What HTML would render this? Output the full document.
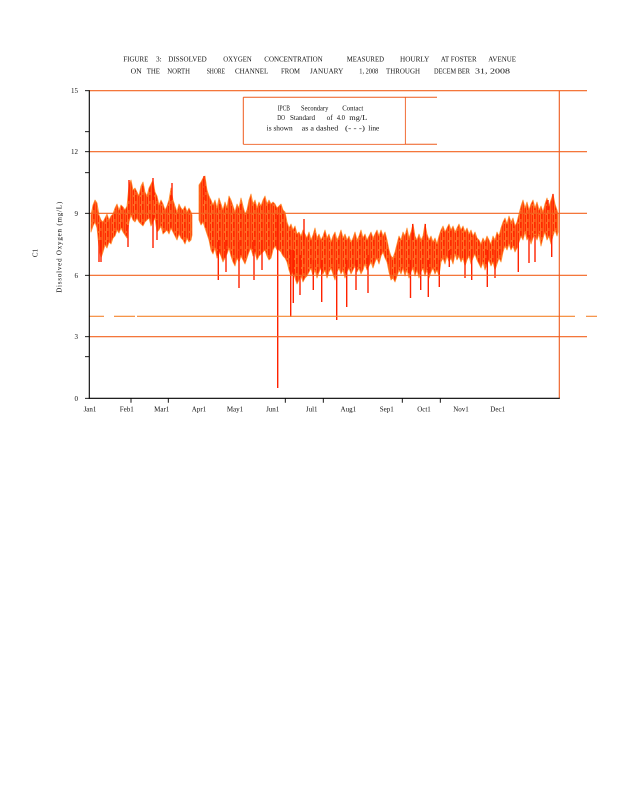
<!DOCTYPE html>
<html><head><meta charset="utf-8"><style>
html,body{margin:0;padding:0;background:#fff;}
svg{display:block;}
text{font-family:"Liberation Serif",serif;fill:#111;}
</style></head><body>
<svg width="618" height="800" viewBox="0 0 618 800" xmlns="http://www.w3.org/2000/svg">
<defs>
<pattern id="p" width="7" height="9" patternUnits="userSpaceOnUse">
<rect x="0" y="0" width="7" height="9" fill="#ff2a00"/>
<rect x="1.3" y="0" width="0.7" height="9" fill="#ff9038"/>
<rect x="3.8" y="0" width="0.9" height="9" fill="#ff7a28"/>
<rect x="5.9" y="0" width="0.5" height="9" fill="#ffa048"/>
<rect x="2.6" y="3" width="0.6" height="3" fill="#ff9a40"/>
<rect x="0" y="6" width="0.6" height="2" fill="#ff8a30"/>
</pattern>
</defs>
<rect width="618" height="800" fill="#fff"/>

<!-- Title -->
<g font-size="7">
<text x="123.3" y="61.5" textLength="25" lengthAdjust="spacingAndGlyphs">FIGURE</text>
<text x="156" y="61.5" textLength="5.7" lengthAdjust="spacingAndGlyphs">3:</text>
<text x="168.3" y="61.5" textLength="38.4" lengthAdjust="spacingAndGlyphs">DISSOLVED</text>
<text x="223.3" y="61.5" textLength="28.4" lengthAdjust="spacingAndGlyphs">OXYGEN</text>
<text x="264.3" y="61.5" textLength="58.4" lengthAdjust="spacingAndGlyphs">CONCENTRATION</text>
<text x="346.7" y="61.5" textLength="37.3" lengthAdjust="spacingAndGlyphs">MEASURED</text>
<text x="400" y="61.5" textLength="29.3" lengthAdjust="spacingAndGlyphs">HOURLY</text>
<text x="440.7" y="61.5" textLength="36" lengthAdjust="spacingAndGlyphs">AT FOSTER</text>
<text x="488.3" y="61.5" textLength="27.7" lengthAdjust="spacingAndGlyphs">AVENUE</text>

<text x="130.7" y="73.5" textLength="11" lengthAdjust="spacingAndGlyphs">ON</text>
<text x="146.7" y="73.5" textLength="13.3" lengthAdjust="spacingAndGlyphs">THE</text>
<text x="167.3" y="73.5" textLength="22.7" lengthAdjust="spacingAndGlyphs">NORTH</text>
<text x="206.7" y="73.5" textLength="18.3" lengthAdjust="spacingAndGlyphs">SHORE</text>
<text x="235" y="73.5" textLength="33.3" lengthAdjust="spacingAndGlyphs">CHANNEL</text>
<text x="281" y="73.5" textLength="19" lengthAdjust="spacingAndGlyphs">FROM</text>
<text x="310" y="73.5" textLength="33.3" lengthAdjust="spacingAndGlyphs">JANUARY</text>
<text x="359.3" y="73.5" textLength="19" lengthAdjust="spacingAndGlyphs">1, 2008</text>
<text x="386" y="73.5" textLength="34" lengthAdjust="spacingAndGlyphs">THROUGH</text>
<text x="434" y="73.5" textLength="36" lengthAdjust="spacingAndGlyphs">DECEM BER</text>
<text x="475" y="73.5" textLength="35" lengthAdjust="spacingAndGlyphs">31, 2008</text>
</g>

<!-- Data series -->
<polygon fill="url(#p)" stroke="#ff8c30" stroke-width="0.8" stroke-linejoin="round" points="91,215 93,205 95,200 97,203 99,215 101,220 103,222 105,218 107,214 109,220 111,216 113,214 115,208 117,204 119,210 121,205 123,207 125,210 127,206 129,185 131,180 133,190 135,188 137,192 139,196 141,186 143,182 145,192 147,196 149,188 151,184 153,180 155,192 157,196 159,205 161,200 163,204 165,210 167,206 169,200 171,188 173,200 175,206 177,212 179,204 181,208 183,210 185,206 187,212 189,208 191,212 192,215 192,235 191,240 189,242 187,238 185,244 183,240 181,238 179,234 177,240 175,236 173,232 171,228 169,234 167,230 165,232 163,234 161,226 159,230 157,232 155,218 153,222 151,226 149,218 147,220 145,222 143,226 141,224 139,222 137,218 135,222 133,220 131,215 129,222 127,238 125,235 123,232 121,228 119,233 117,230 115,236 113,238 111,244 109,242 107,248 105,245 103,252 101,258 99,248 97,228 95,222 93,226 91,232"/>

<polygon fill="url(#p)" stroke="#ff8c30" stroke-width="0.8" stroke-linejoin="round" points="199,185 201,182 203,178 205,176 207,190 209,196 211,200 213,205 215,200 217,208 219,198 221,204 223,210 225,202 227,208 229,196 231,200 233,206 235,212 237,204 239,208 241,198 243,206 245,214 247,210 249,200 251,194 253,204 255,200 257,208 259,202 261,206 263,200 265,196 267,204 269,200 271,204 273,202 275,204 277,208 279,206 281,204 283,210 285,212 287,222 289,228 291,224 293,230 295,226 297,234 299,232 301,236 303,230 305,234 307,238 309,232 311,240 313,235 315,228 317,238 319,234 321,240 323,236 325,230 327,238 329,234 331,242 333,236 335,232 337,240 339,236 341,230 343,238 345,234 347,240 349,236 351,242 353,238 355,232 357,240 359,236 361,230 363,238 365,234 367,240 369,236 371,232 373,238 375,234 377,230 379,236 381,230 383,236 385,232 387,240 389,250 391,256 393,258 395,252 397,244 399,236 401,240 403,232 405,236 407,228 409,238 411,232 413,224 415,236 417,240 419,234 421,240 423,236 425,224 427,234 429,240 431,236 433,242 435,238 437,244 439,236 441,230 443,226 445,232 447,228 449,224 451,230 453,226 455,232 457,228 459,224 461,230 463,226 465,232 467,228 469,234 471,230 473,236 475,232 477,238 479,240 481,244 483,238 485,242 487,236 489,240 491,244 493,236 495,240 497,232 499,236 501,228 503,222 505,218 507,224 509,216 511,222 513,218 515,226 517,222 519,214 521,206 523,200 525,208 527,202 529,210 531,204 533,200 535,208 537,202 539,210 541,206 543,212 545,204 547,198 549,206 551,200 553,194 555,204 557,210 558,214 558,232 557,236 555,230 553,236 551,244 549,236 547,240 545,232 543,238 541,246 539,234 537,240 535,234 533,238 531,244 529,236 527,240 525,232 523,240 521,236 519,242 517,248 515,252 513,246 511,250 509,244 507,250 505,246 503,252 501,262 499,258 497,264 495,270 493,262 491,266 489,260 487,264 485,270 483,262 481,268 479,264 477,260 475,254 473,258 471,264 469,256 467,260 465,266 463,258 461,262 459,256 457,260 455,254 453,264 451,258 449,262 447,256 445,264 443,258 441,262 439,276 437,270 435,274 433,268 431,272 429,278 427,270 425,276 423,268 421,272 419,278 417,270 415,276 413,268 411,272 409,278 407,270 405,276 403,268 401,274 399,270 397,276 395,282 393,278 391,280 389,272 387,262 385,258 383,252 381,256 379,264 377,258 375,262 373,268 371,262 369,266 367,270 365,264 363,270 361,274 359,268 357,272 355,266 353,270 351,274 349,268 347,272 345,278 343,270 341,274 339,268 337,272 335,280 333,274 331,268 329,272 327,278 325,270 323,274 321,268 319,272 317,278 315,270 313,276 311,268 309,272 307,276 305,278 303,282 301,276 299,280 297,284 295,278 293,272 291,276 289,270 287,262 285,258 283,256 281,252 279,250 277,250 275,246 273,250 271,258 269,260 267,256 265,250 263,252 261,254 259,256 257,260 255,252 253,256 251,248 249,252 247,258 245,264 243,260 241,256 239,262 237,258 235,266 233,262 231,256 229,248 227,254 225,258 223,262 221,256 219,252 217,258 215,248 213,254 211,250 209,240 207,234 205,228 203,222 201,225 199,220"/>

<!-- spikes -->
<g stroke="#ff2200" stroke-width="1.4" fill="none">
<path d="M99,240V262 M101,240V262 M128,225V247 M153,215V248 M157,220V240 M218.3,240V280 M226,240V272 M239,240V288 M254,240V280 M262,240V270 M277.7,215V388 M290.7,250V317 M293.3,250V303 M300,255V295 M313.3,260V290 M321.7,260V302 M336.7,260V320 M346.7,260V307 M356,260V290 M368,255V293 M410.5,260V298 M420.7,260V290 M428.3,260V297 M439.3,260V287 M449.3,250V267 M465,250V278 M471.7,250V280 M487.3,250V287 M495,250V278 M518.3,240V272 M529,235V263 M535,235V262 M551.7,235V257"/>
<path d="M129,200V180 M153,200V178 M172,200V183 M204,200V176 M304,240V219 M412.7,240V224 M425.3,240V224 M553,210V194 M548,210V200"/>
</g>

<!-- gridlines -->
<g stroke="#f2621f" stroke-width="1.1">
<line x1="89" y1="90.7" x2="587" y2="90.7"/>
<line x1="89" y1="151.7" x2="587" y2="151.7"/>
<line x1="89" y1="213.3" x2="587" y2="213.3"/>
<line x1="89" y1="275.3" x2="587" y2="275.3"/>
<line x1="89" y1="336.7" x2="587" y2="336.7"/>
</g>
<!-- dashed DO standard -->
<g stroke="#f5842e" stroke-width="1.1">
<line x1="89" y1="316.3" x2="104" y2="316.3"/>
<line x1="114" y1="316.3" x2="135" y2="316.3"/>
<line x1="137" y1="316.3" x2="575" y2="316.3"/>
<line x1="586" y1="316.3" x2="597" y2="316.3"/>
</g>

<!-- legend box -->
<g stroke="#ee5a1c" stroke-width="1" fill="none">
<line x1="243.3" y1="97.3" x2="437" y2="97.3"/>
<line x1="243.3" y1="144.3" x2="437" y2="144.3"/>
<line x1="243.3" y1="97.3" x2="243.3" y2="144.3"/>
<line x1="405.3" y1="97.3" x2="405.3" y2="144.3"/>
</g>
<rect x="244" y="98" width="160.8" height="45.8" fill="#fff"/>
<g font-size="7">
<text x="277.7" y="110.6" textLength="12.3" lengthAdjust="spacingAndGlyphs">IPCB</text>
<text x="301" y="110.6" textLength="27.3" lengthAdjust="spacingAndGlyphs">Secondary</text>
<text x="342.3" y="110.6" textLength="21" lengthAdjust="spacingAndGlyphs">Contact</text>
<text x="277.3" y="120" textLength="7.7" lengthAdjust="spacingAndGlyphs">DO</text>
<text x="290" y="120" textLength="25" lengthAdjust="spacingAndGlyphs">Standard</text>
<text x="326.7" y="120" textLength="6" lengthAdjust="spacingAndGlyphs">of</text>
<text x="336.7" y="120" textLength="8.3" lengthAdjust="spacingAndGlyphs">4.0</text>
<text x="349.3" y="120" textLength="18" lengthAdjust="spacingAndGlyphs">mg/L</text>
<text x="266.7" y="130.6" textLength="26" lengthAdjust="spacingAndGlyphs">is shown</text>
<text x="301.7" y="130.6" textLength="36.6" lengthAdjust="spacingAndGlyphs">as a dashed</text>
<text x="345" y="130.6" textLength="20" lengthAdjust="spacingAndGlyphs">(- - -)</text>
<text x="368.3" y="130.6" textLength="11" lengthAdjust="spacingAndGlyphs">line</text>
</g>

<!-- right border -->
<line x1="559.3" y1="90.7" x2="559.3" y2="398.3" stroke="#ee5a1c" stroke-width="1.1"/>

<!-- axes -->
<g stroke="#000" stroke-width="1.1">
<line x1="89.3" y1="90.2" x2="89.3" y2="398.8"/>
<line x1="88.8" y1="398.3" x2="559.8" y2="398.3"/>
<path d="M85,90.7H89.3 M85,131.7H89.3 M85,151.7H89.3 M85,172.7H89.3 M85,213.3H89.3 M85,275.3H89.3 M85,336.7H89.3 M85,356.7H89.3 M85,398.3H89.3" stroke-width="0.9"/>
<path d="M131,398.3V402.8 M168.3,398.3V402.8 M285.3,398.3V402.8 M323.3,398.3V402.8 M402.3,398.3V402.8 M440.3,398.3V402.8" stroke-width="0.9"/>
</g>

<!-- y tick labels -->
<g font-size="7" text-anchor="end">
<text x="78" y="93.2">15</text>
<text x="78" y="154.2">12</text>
<text x="78" y="215.8">9</text>
<text x="78" y="277.8">6</text>
<text x="78" y="339.2">3</text>
<text x="78" y="400.8">0</text>
</g>

<!-- x labels -->
<g font-size="7" text-anchor="middle">
<text x="90" y="411.5">Jan1</text>
<text x="126.7" y="411.5">Feb1</text>
<text x="161.7" y="411.5">Mar1</text>
<text x="199" y="411.5">Apr1</text>
<text x="235" y="411.5">May1</text>
<text x="272.7" y="411.5">Jun1</text>
<text x="311.7" y="411.5">Jul1</text>
<text x="348.3" y="411.5">Aug1</text>
<text x="386.7" y="411.5">Sep1</text>
<text x="424" y="411.5">Oct1</text>
<text x="461" y="411.5">Nov1</text>
<text x="497.7" y="411.5">Dec1</text>
</g>

<!-- y axis title -->
<text font-size="7" text-anchor="middle" transform="translate(61.6,247.3) rotate(-90)" textLength="91" lengthAdjust="spacing">Dissolved   Oxygen   (mg/L)</text>
<text font-size="7" text-anchor="middle" transform="translate(37.4,253) rotate(-90)">C1</text>
</svg>
</body></html>
